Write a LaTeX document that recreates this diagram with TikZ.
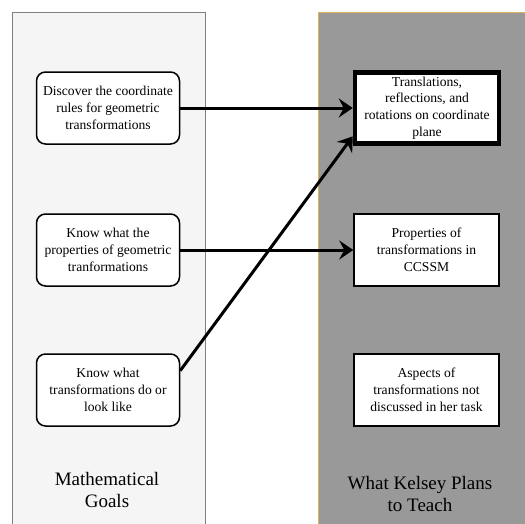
\documentclass[tikz,border=0pt]{standalone}
\usepackage{fontspec}
\setmainfont{Liberation Serif}
\usetikzlibrary{calc, arrows.meta, positioning}

\definecolor{paneleft}{HTML}{F5F5F5}
\definecolor{paneright}{HTML}{999999}
\definecolor{goldline}{HTML}{D6B656}

\begin{document}
\begin{tikzpicture}[x=1pt, y=-1pt,
	goal/.style={draw, line width=1.5pt, rounded corners=9pt, fill=white, minimum width=143pt, minimum height=72pt, align=center, font=\fontsize{13.6}{17}\selectfont},
	topic/.style={draw, line width=1.5pt, fill=white, minimum width=145pt, minimum height=72pt, align=center, font=\fontsize{13.6}{17}\selectfont},
	title/.style={align=center, font=\fontsize{19}{22.5}\selectfont},
	link/.style={line width=3pt, -{Stealth[length=14pt, width=19pt, inset=5pt]}}
	]

		\useasboundingbox (0,0) rectangle (525,523);

		% the two columns
		\draw[fill=paneleft, draw=gray] (12,12) rectangle (205,540);
		\draw[fill=paneright, draw=goldline, line width=1pt] (318,12) rectangle (540,540);

		\node[goal] (discover) at (108,108) {Discover the coordinate\\rules for geometric\\transformations};
		\node[goal] (props) at (108,250) {Know what the\\properties of geometric\\tranformations};
		\node[goal] (looks) at (108,390) {Know what\\transformations do or\\look like};

		\node[topic, line width=4.5pt, minimum width=144pt, minimum height=71pt, inner sep=1pt, font=\fontsize{13.6}{16.6}\selectfont] (plane) at (427,108) {Translations,\\reflections, and\\rotations on coordinate\\plane};
		\node[topic] (ccssm) at (426.5,250) {Properties of\\transformations in\\CCSSM};
		\node[topic] (aspects) at (426.5,390) {Aspects of\\transformations not\\discussed in her task};

		\node[title] (goals) at (107,490) {Mathematical\\Goals};
		\node[title] (teach) at (420,494) {What Kelsey Plans\\to Teach};

		\draw[link] (discover) -- (plane);
		\draw[link] (props) -- (ccssm);
		\draw[link] (looks.15) -- ($(plane.south west)!0.25!(plane.west)$);

	\end{tikzpicture}
\end{document}
